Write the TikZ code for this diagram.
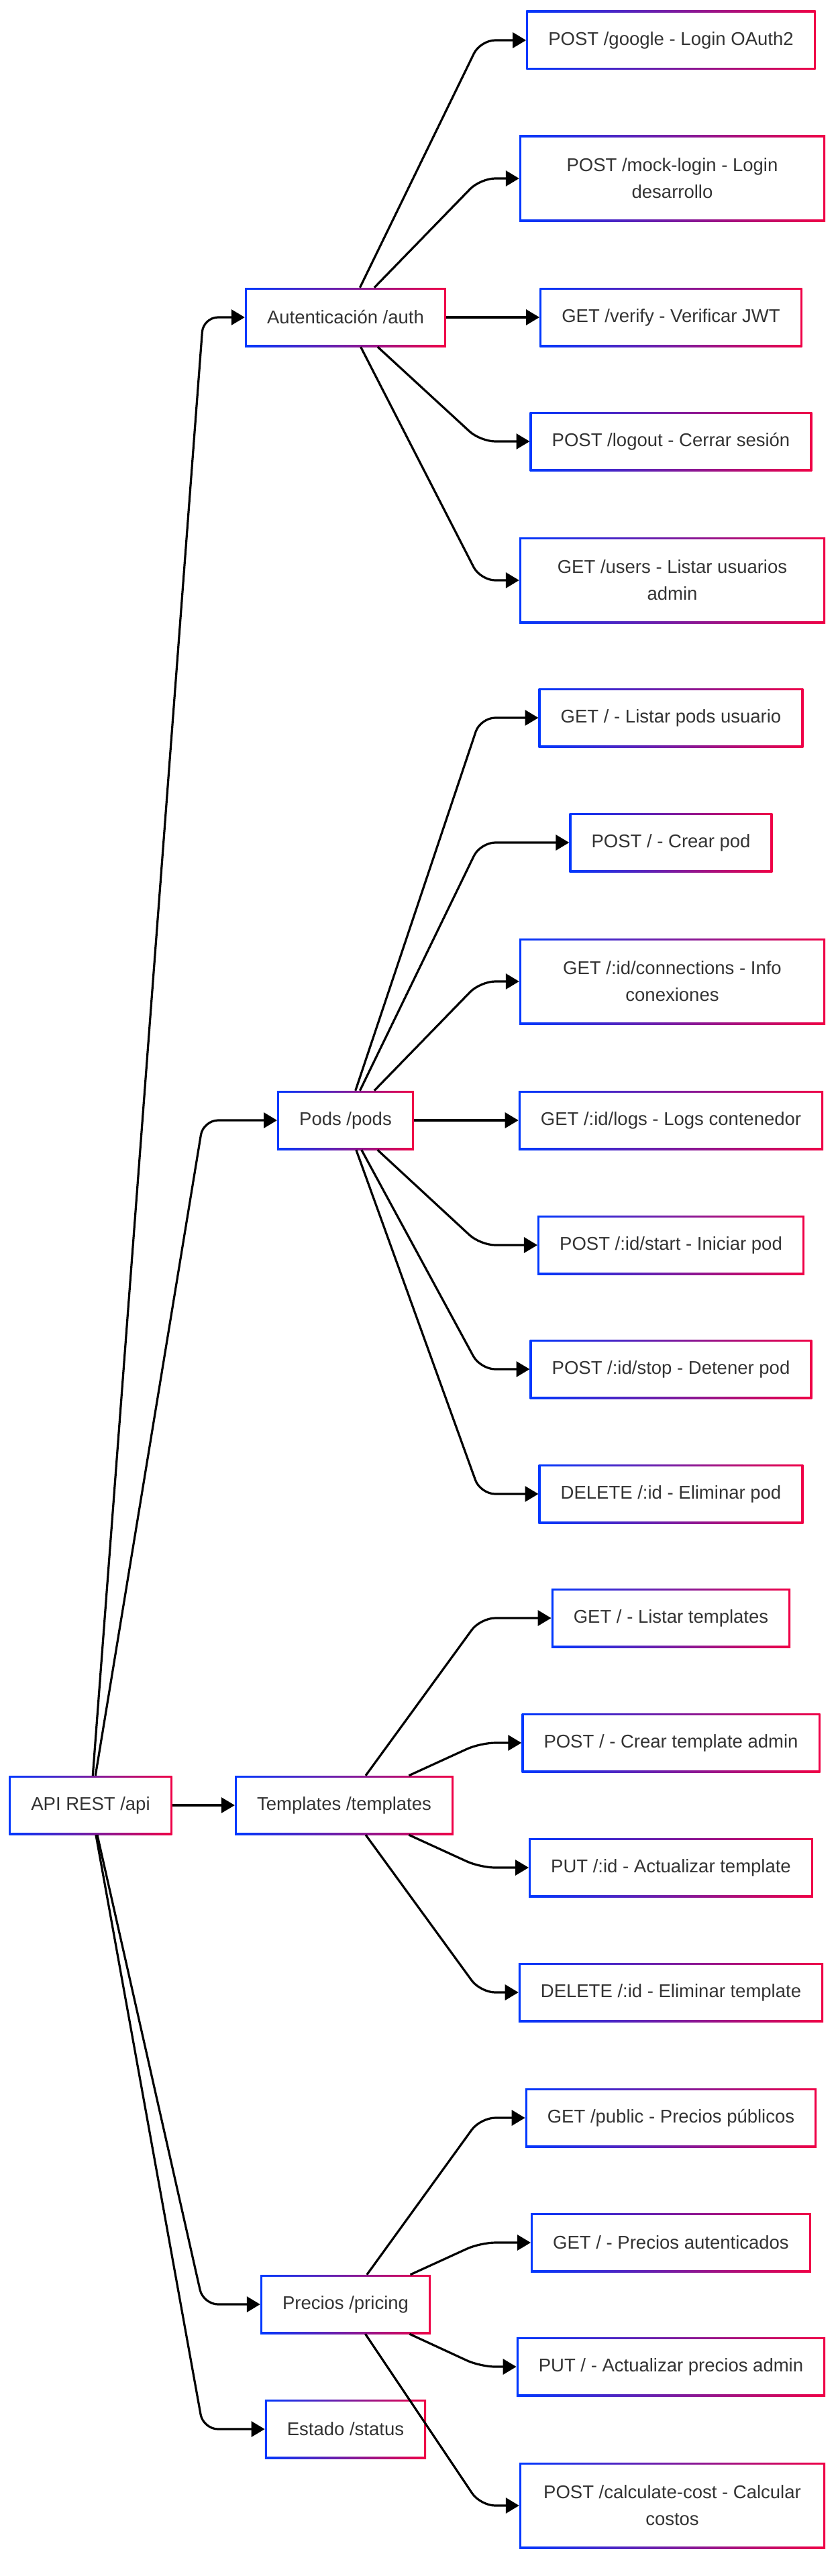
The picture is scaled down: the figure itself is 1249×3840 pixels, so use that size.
\documentclass[tikz,border=0pt]{standalone}
\usepackage{fontspec}
\setmainfont{Liberation Sans}
\usetikzlibrary{arrows.meta}
\definecolor{bleft}{RGB}{0,56,255}
\definecolor{bright}{RGB}{240,0,70}
\definecolor{txt}{RGB}{51,51,51}
\newcommand{\lbl}{\fontsize{27.5}{40}\selectfont}

\begin{document}
\begin{tikzpicture}[x=1pt,y=-1pt,>={Triangle[length=20pt,width=23pt]},font=\lbl,
  ep/.style={rectangle,fill=white,minimum height=88pt,inner xsep=33pt,text=txt,align=center,
    path picture={
      \shade[left color=bleft,right color=bright] (path picture bounding box.south west) rectangle (path picture bounding box.north east);
      \fill[white] ([shift={(3pt,3pt)}]path picture bounding box.south west) rectangle ([shift={(-3pt,-3pt)}]path picture bounding box.north east);
    }},
  ep2/.style={ep,minimum width=456pt,minimum height=128pt},
  link/.style={->,line width=3.2pt,rounded corners=22pt}]
  \fill[white] (0,0) rectangle (1249,3840);
  \coordinate (bendL) at (303,0);
  \coordinate (bendR) at (716,0);

  \node[ep] (api) at (135,2691) {API REST /api};
  \node[ep] (auth) at (515,473) {Autenticación /auth};
  \node[ep] (pods) at (515,1670) {Pods /pods};
  \node[ep] (tpl) at (513,2691) {Templates /templates};
  \node[ep] (pricing) at (515,3435) {Precios /pricing};
  \node[ep] (status) at (515,3621) {Estado /status};

  \node[ep] (google) at (1000,60) {POST /google - Login OAuth2};
  \node[ep2] (mock) at (1002,266) {POST /mock-login - Login\\desarrollo};
  \node[ep] (verify) at (1000,473) {GET /verify - Verificar JWT};
  \node[ep] (logout) at (1000,658) {POST /logout - Cerrar sesión};
  \node[ep2] (users) at (1002,865) {GET /users - Listar usuarios\\admin};

  \node[ep] (podlist) at (1000,1070) {GET / - Listar pods usuario};
  \node[ep] (podnew) at (1000,1256) {POST / - Crear pod};
  \node[ep2] (podconn) at (1002,1463) {GET /:id/connections - Info\\conexiones};
  \node[ep] (podlogs) at (1000,1670) {GET /:id/logs - Logs contenedor};
  \node[ep] (podstart) at (1000,1856) {POST /:id/start - Iniciar pod};
  \node[ep] (podstop) at (1000,2041) {POST /:id/stop - Detener pod};
  \node[ep] (poddel) at (1000,2227) {DELETE /:id - Eliminar pod};

  \node[ep] (tpllist) at (1000,2412) {GET / - Listar templates};
  \node[ep] (tplnew) at (1000,2598) {POST / - Crear template admin};
  \node[ep] (tplput) at (1000,2784) {PUT /:id - Actualizar template};
  \node[ep] (tpldel) at (1000,2970) {DELETE /:id - Eliminar template};

  \node[ep] (prpub) at (1000,3157) {GET /public - Precios públicos};
  \node[ep] (prauth) at (1000,3343) {GET / - Precios autenticados};
  \node[ep] (prput) at (1000,3528) {PUT / - Actualizar precios admin};
  \node[ep2] (prcalc) at (1002,3735) {POST /calculate-cost - Calcular\\costos};

  \draw[link] (api) -- (bendL |- auth) -- (auth);
  \draw[link] (api) -- (bendL |- pods) -- (pods);
  \draw[link] (api) -- (tpl);
  \draw[link] (api) -- (bendL |- pricing) -- (pricing);
  \draw[link] (api) -- (bendL |- status) -- (status);

  \draw[link] (auth) -- (bendR |- google) -- (google);
  \draw[link] (auth) -- (bendR |- mock) -- (mock);
  \draw[link] (auth) -- (verify);
  \draw[link] (auth) -- (bendR |- logout) -- (logout);
  \draw[link] (auth) -- (bendR |- users) -- (users);

  \draw[link] (pods) -- (bendR |- podlist) -- (podlist);
  \draw[link] (pods) -- (bendR |- podnew) -- (podnew);
  \draw[link] (pods) -- (bendR |- podconn) -- (podconn);
  \draw[link] (pods) -- (podlogs);
  \draw[link] (pods) -- (bendR |- podstart) -- (podstart);
  \draw[link] (pods) -- (bendR |- podstop) -- (podstop);
  \draw[link] (pods) -- (bendR |- poddel) -- (poddel);

  \draw[link] (tpl) -- (bendR |- tpllist) -- (tpllist);
  \draw[link] (tpl) -- (bendR |- tplnew) -- (tplnew);
  \draw[link] (tpl) -- (bendR |- tplput) -- (tplput);
  \draw[link] (tpl) -- (bendR |- tpldel) -- (tpldel);

  \draw[link] (pricing) -- (bendR |- prpub) -- (prpub);
  \draw[link] (pricing) -- (bendR |- prauth) -- (prauth);
  \draw[link] (pricing) -- (bendR |- prput) -- (prput);
  \draw[link] (pricing) -- (bendR |- prcalc) -- (prcalc);
\end{tikzpicture}
\end{document}
